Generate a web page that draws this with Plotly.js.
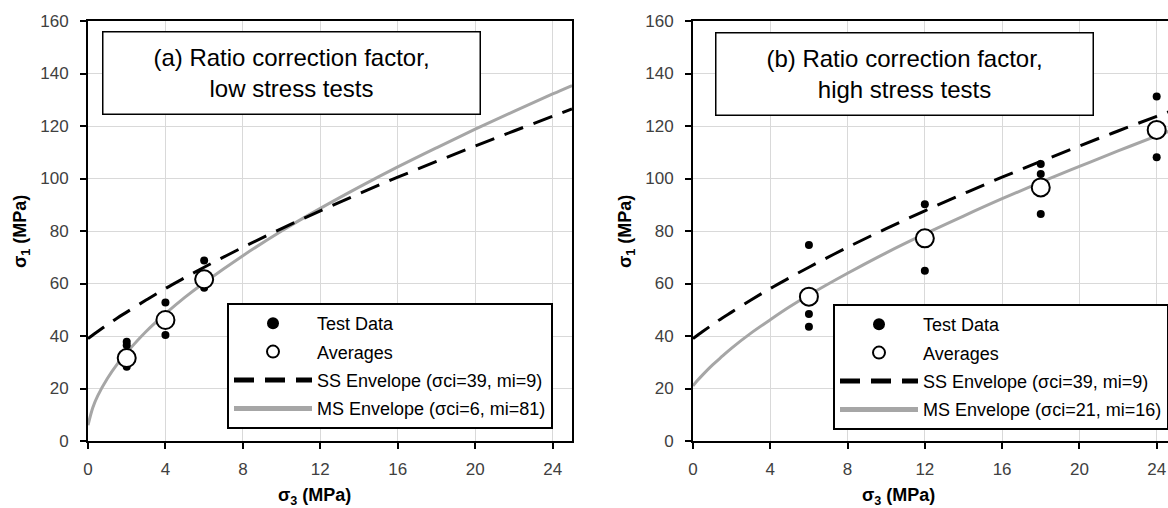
<!DOCTYPE html>
<html>
<head>
<meta charset="utf-8">
<script src="https://cdn.plot.ly/plotly-3.0.1.min.js"></script>
<style>
html,body{margin:0;padding:0;overflow:hidden;background:#fff;}
#chart{width:1180px;height:508px;}
</style>
</head>
<body>
<div id="chart"></div>
<script>
// ---- data ----
// (a) low stress tests
const leftTestX = [2, 2, 2, 4, 4, 6, 6];
const leftTestY = [37.8, 36.5, 28.3, 52.8, 40.4, 68.8, 58.4];
const leftAvgX = [2, 4, 6];
const leftAvgY = [31.6, 46.1, 61.6];
// (b) high stress tests
const rightTestX = [6, 6, 6, 12, 12, 18, 18, 18, 24, 24];
const rightTestY = [74.7, 48.4, 43.5, 90.2, 64.9, 105.5, 101.7, 86.5, 131.2, 108.1];
const rightAvgX = [6, 12, 18, 24];
const rightAvgY = [55.0, 77.2, 96.6, 118.5];
// envelopes
const envX = [0, 0.25, 0.5, 1, 1.5, 2, 3, 4, 5, 6, 8, 10, 12, 14, 16, 18, 20, 22, 24, 25];
const ssY = [39, 40.4, 41.7, 44.3, 46.8, 49.1, 53.7, 58.1, 62.2, 66.2, 73.8, 80.9, 87.7, 94.2, 100.5, 106.5, 112.4, 118.1, 123.7, 126.5];
const msLeftY = [6, 12.8, 17.2, 23.8, 29.2, 33.7, 41.7, 48.5, 54.7, 60.3, 70.6, 80, 88.6, 96.7, 104.4, 111.7, 118.8, 125.6, 132.2, 135.4];
const msRightY = [21, 23.2, 25.2, 28.9, 32.2, 35.4, 41.1, 46.2, 51.1, 55.6, 63.9, 71.7, 78.9, 85.7, 92.3, 98.6, 104.6, 110.5, 116.2, 119.0];

const legendNames = {
  test: 'Test Data',
  avg: 'Averages',
  ssL: 'SS Envelope (σci=39, mi=9)',
  msL: 'MS Envelope (σci=6, mi=81)',
  ssR: 'SS Envelope (σci=39, mi=9)',
  msR: 'MS Envelope (σci=21, mi=16)'
};
const panelTitles = ['(a) Ratio correction factor,<br>low stress tests', '(b) Ratio correction factor,<br>high stress tests'];
const xTitle = '<b>σ<sub>3</sub> (MPa)</b>';
const yTitle = '<b>σ<sub>1</sub> (MPa)</b>';

const W = 1180, H = 508;
const FONT = 'Liberation Sans, Arial, sans-serif';
const grey = '#a6a6a6';

function traces(xa, ya, leg, tX, tY, aX, aY, msY, ssName, msName, gp) {
  return [
    {x: envX, y: msY, xaxis: xa, yaxis: ya, mode: 'lines', name: msName, legend: leg, legendgroup: gp + 'd', legendrank: 4,
     line: {color: grey, width: 3, shape: 'spline', smoothing: 1}},
    {x: envX, y: ssY, xaxis: xa, yaxis: ya, mode: 'lines', name: ssName, legend: leg, legendgroup: gp + 'c', legendrank: 3,
     line: {color: '#000', width: 3, dash: '20px,11px', shape: 'spline', smoothing: 1}},
    {x: tX, y: tY, xaxis: xa, yaxis: ya, mode: 'markers', name: legendNames.test, legend: leg, legendgroup: gp + 'a', legendrank: 1,
     marker: {color: '#000', size: 8}},
    {x: aX, y: aY, xaxis: xa, yaxis: ya, mode: 'markers', name: legendNames.avg, legend: leg, legendgroup: gp + 'b', legendrank: 2,
     marker: {color: '#fff', size: 18, line: {color: '#000', width: 2}}}
  ];
}

const data = [].concat(
  traces('x', 'y', 'legend', leftTestX, leftTestY, leftAvgX, leftAvgY, msLeftY, legendNames.ssL, legendNames.msL, 'L'),
  traces('x2', 'y2', 'legend2', rightTestX, rightTestY, rightAvgX, rightAvgY, msRightY, legendNames.ssR, legendNames.msR, 'R')
);

const yDom = [(H - 441) / H, (H - 21) / H];
function xAxis(dom, anchor) {
  return {domain: dom, anchor: anchor, range: [0, 25], dtick: 4, tick0: 0,
    showline: true, mirror: true, linecolor: '#000', linewidth: 2,
    ticks: 'outside', ticklen: 6, tickwidth: 2, tickcolor: '#000',
    showgrid: true, gridcolor: '#d9d9d9', gridwidth: 1, zeroline: false,
    ticklabelstandoff: 6,
    tickfont: {family: FONT, size: 17, color: '#404040'}, fixedrange: true};
}
function yAxis(anchor) {
  return {domain: yDom, anchor: anchor, range: [0, 160], dtick: 20, tick0: 0,
    showline: true, mirror: true, linecolor: '#000', linewidth: 2,
    ticks: 'outside', ticklen: 6, tickwidth: 2, tickcolor: '#000',
    showgrid: true, gridcolor: '#d9d9d9', gridwidth: 1, zeroline: false,
    ticklabelstandoff: 8,
    tickfont: {family: FONT, size: 17, color: '#404040'}, fixedrange: true};
}
function legendCfg(xpx, ypx) {
  return {x: xpx / W, y: (H - ypx) / H, xanchor: 'left', yanchor: 'top',
    bgcolor: '#fff', bordercolor: '#000', borderwidth: 2,
    font: {family: FONT, size: 18, color: '#000'},
    traceorder: 'grouped', tracegroupgap: 2, itemwidth: 78, itemsizing: 'constant'};
}

const ann = [];
function boxAnn(text, cx, cy) {
  ann.push({text: text, xref: 'paper', yref: 'paper', x: cx / W, y: (H - cy) / H,
    xanchor: 'center', yanchor: 'middle', showarrow: false, align: 'center',
    font: {family: FONT, size: 24, color: '#000'},
    bgcolor: '#fff', bordercolor: '#000', borderwidth: 1.5, borderpad: 0, width: 376, height: 81});
}
boxAnn(panelTitles[0], 291, 73.5);
boxAnn(panelTitles[1], 904, 74.5);
function txt(text, cx, cy, angle) {
  ann.push({text: text, xref: 'paper', yref: 'paper', x: cx / W, y: (H - cy) / H,
    xanchor: 'center', yanchor: 'middle', showarrow: false, textangle: angle || 0,
    font: {family: FONT, size: 18, color: '#000'}});
}
txt(xTitle, 314, 496);
txt(xTitle, 898, 496);
txt(yTitle, 22, 232, -90);
txt(yTitle, 627, 232, -90);

const layout = {
  width: W, height: H, margin: {l: 0, r: 0, t: 0, b: 0},
  paper_bgcolor: '#fff', plot_bgcolor: '#fff', showlegend: true,
  xaxis: xAxis([88 / W, 572 / W], 'y'),
  yaxis: yAxis('x'),
  xaxis2: xAxis([693 / W, 1176 / W], 'y2'),
  yaxis2: yAxis('x2'),
  legend: legendCfg(227, 303),
  legend2: legendCfg(833, 304),
  annotations: ann
};
Plotly.newPlot('chart', data, layout, {displayModeBar: false, staticPlot: true});
</script>
</body>
</html>
